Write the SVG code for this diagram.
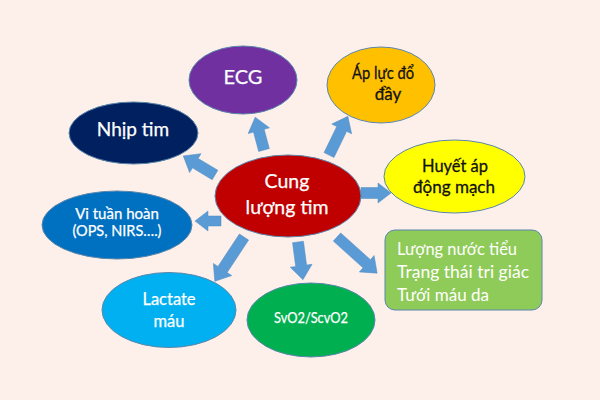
<svg xmlns="http://www.w3.org/2000/svg" width="600" height="400" viewBox="0 0 600 400">
<defs><style>
.t{font-family:"Lato","Liberation Sans",Arial,sans-serif;text-anchor:middle}
.b{font-family:"Lato","Liberation Sans",Arial,sans-serif}
.k{fill:#111;stroke:#111;stroke-width:.3}
.w{fill:#fff;stroke:#fff;stroke-width:.25}
.a{fill:#5b9bd5;stroke:#4f8cc4;stroke-width:.5}
.n{stroke:#5a86ac;stroke-width:1}
</style></defs>
<rect width="600" height="400" fill="#fdf0ea"/>
<g id="connectors">
<polygon class="a" transform="translate(264,150) rotate(-105)" points="0,-5.5 20,-5.5 20,-11 34,0 20,11 20,5.5 0,5.5"/>
<polygon class="a" transform="translate(329,155) rotate(-64)" points="0,-5.5 29,-5.5 29,-11 43,0 29,11 29,5.5 0,5.5"/>
<polygon class="a" transform="translate(361,193) rotate(0)" points="0,-5.5 17,-5.5 17,-10 30,0 17,10 17,5.5 0,5.5"/>
<polygon class="a" transform="translate(337,237) rotate(42)" points="0,-5.5 40,-5.5 40,-11 54,0 40,11 40,5.5 0,5.5"/>
<polygon class="a" transform="translate(298,242) rotate(82.5)" points="0,-5.5 24,-5.5 24,-11 38,0 24,11 24,5.5 0,5.5"/>
<polygon class="a" transform="translate(244,237) rotate(123.4)" points="0,-5.5 39,-5.5 39,-11 53,0 39,11 39,5.5 0,5.5"/>
<polygon class="a" transform="translate(221,221) rotate(180)" points="0,-5 13,-5 13,-10 26,0 13,10 13,5 0,5"/>
<polygon class="a" transform="translate(215,175) rotate(-149)" points="0,-5.5 23,-5.5 23,-11 37,0 23,11 23,5.5 0,5.5"/>
</g>
<g id="node-center"><ellipse class="n" cx="288" cy="196" rx="73" ry="41" fill="#c00000"/><text class="t w" x="287" y="188" font-size="19.5">Cung</text><text class="t w" x="287" y="214" font-size="19.5">lượng tim</text></g>
<g id="node-ecg"><ellipse class="n" cx="243" cy="80" rx="54" ry="34" fill="#7030a0"/><text class="t w" x="243" y="84" font-size="20">ECG</text></g>
<g id="node-ap-luc"><ellipse class="n" cx="381" cy="85" rx="54" ry="38" fill="#ffc000"/><text class="t k" x="383" y="79" font-size="18" textLength="62" lengthAdjust="spacingAndGlyphs">Áp lực đổ</text><text class="t k" x="388" y="100" font-size="17">đầy</text></g>
<g id="node-huyet-ap"><ellipse class="n" cx="454.5" cy="176.5" rx="70.5" ry="36.5" fill="#ffff00"/><text class="t k" x="455" y="172" font-size="18" textLength="66" lengthAdjust="spacingAndGlyphs">Huyết áp</text><text class="t k" x="454" y="193" font-size="18" textLength="82" lengthAdjust="spacingAndGlyphs">động mạch</text></g>
<g id="node-nhip-tim"><ellipse class="n" cx="133.5" cy="133" rx="64.5" ry="31" fill="#002060"/><text class="t w" x="133" y="136" font-size="19">Nhịp tim</text></g>
<g id="node-vi-tuan-hoan"><ellipse class="n" cx="117" cy="225" rx="75" ry="34" fill="#0070c0"/><text class="t w" x="117" y="219" font-size="15">Vi tuần hoàn</text><text class="t w" x="117" y="236" font-size="14.5">(OPS, NIRS….)</text></g>
<g id="node-lactate"><ellipse class="n" cx="169" cy="310" rx="67" ry="37.5" fill="#00b0f0"/><text class="t w" x="169" y="305" font-size="16.5">Lactate</text><text class="t w" x="169" y="327" font-size="16.5">máu</text></g>
<g id="node-svo2"><ellipse class="n" cx="311" cy="320" rx="64" ry="37" fill="#00b050"/><text class="t w" x="311" y="323" font-size="15" textLength="74" lengthAdjust="spacingAndGlyphs">SvO2/ScvO2</text></g>
<g id="node-box"><rect class="n" x="385" y="230" width="157" height="80" rx="10" fill="#8fcb58"/><text class="b" x="397" y="255" font-size="17" textLength="120" lengthAdjust="spacingAndGlyphs" fill="#fff">Lượng nước tiểu</text><text class="b" x="397" y="278" font-size="17" textLength="132" lengthAdjust="spacingAndGlyphs" fill="#fff">Trạng thái tri giác</text><text class="b" x="397" y="301" font-size="17" textLength="92" lengthAdjust="spacingAndGlyphs" fill="#fff">Tưới máu da</text></g>
</svg>
